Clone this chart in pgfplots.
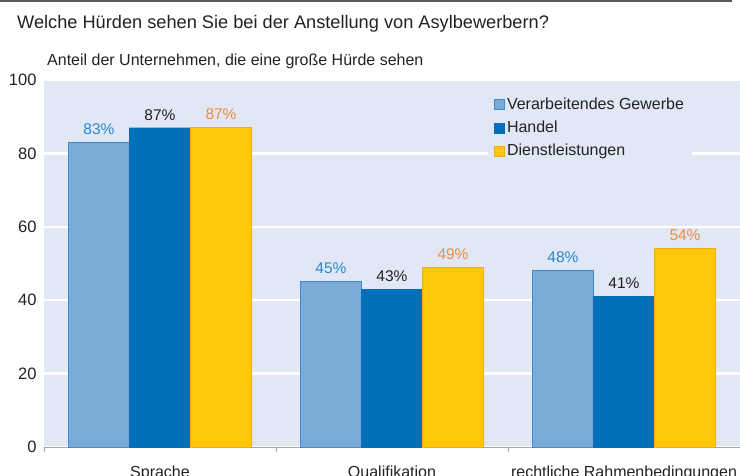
\documentclass[border=0pt]{standalone}
\usepackage{pgfplots}
\pgfplotsset{compat=1.18}
\usepackage{fontspec}
\setmainfont{Liberation Sans}
\definecolor{bgc}{HTML}{E1E7F4}
\definecolor{cA}{HTML}{7BAAD4}
\definecolor{cAb}{HTML}{3D8BD0}
\definecolor{cB}{HTML}{0070BA}
\definecolor{cC}{HTML}{FFC90A}
\definecolor{cCb}{HTML}{F5A623}
\definecolor{tA}{HTML}{2A87CF}
\definecolor{tB}{HTML}{222222}
\definecolor{tC}{HTML}{F28C3C}
\definecolor{axc}{HTML}{8EA6D6}
\begin{document}
\begin{tikzpicture}[x=1pt,y=1pt]
\useasboundingbox (0,0) rectangle (740,475);
\fill[black!65] (0,473) rectangle (732,475);
\node[anchor=west,font=\fontsize{18.2}{20}\selectfont,text=tB,inner sep=0pt] at (17,451) {Welche Hürden sehen Sie bei der Anstellung von Asylbewerbern?};
\node[anchor=west,font=\fontsize{16}{18}\selectfont,text=tB,inner sep=0pt] at (47,414) {Anteil der Unternehmen, die eine große Hürde sehen};
\begin{axis}[
  at={(44pt,28pt)}, anchor=south west,
  scale only axis, width=696pt, height=367pt,
  xmin=-0.5, xmax=2.5, ymin=0, ymax=100,
  axis background/.style={fill=bgc},
  axis x line*=bottom, axis y line*=left,
  x axis line style={draw=axc, line width=0.8pt, -},
  y axis line style={draw=none},
  ytick={0,20,40,60,80,100},
  ytick style={draw=none},
  yticklabel style={font=\fontsize{16.5}{18}\selectfont, text=tB, xshift=-4pt},
  ymajorgrids, grid style={white, line width=2.5pt},
  xtick={0,1,2},
  xticklabels={Sprache,Qualifikation,rechtliche Rahmenbedingungen},
  major x tick style={draw=none},
  minor xtick={-0.5,0.5,1.5,2.5},
  minor tick style={draw=axc, line width=0.8pt},
  minor tick length=5pt,
  xtick align=outside,
  xticklabel style={font=\fontsize{16}{18}\selectfont, text=tB, yshift=-11pt},
  /pgf/number format/assume math mode=true,
  bar width=0.263,
  ybar=0pt,
  legend style={at={(444pt,360pt)}, anchor=north west, fill=bgc, draw=none,
    font=\fontsize{16}{18}\selectfont, text=tB, inner xsep=6pt, inner ysep=9pt,
    row sep=6pt, legend cell align=left},
  legend image code/.code={\draw[#1] (0pt,-5pt) rectangle (10pt,5pt);},
  nodes near coords={\pgfmathprintnumber{\pgfplotspointmeta}\%},
  every node near coord/.append style={font=\fontsize{15.5}{17}\selectfont, yshift=4pt},
  clip=false,
]
\addplot[fill=cA, draw=cAb, line width=0.8pt, bar shift=-0.263,
  every node near coord/.append style={text=tA}] coordinates {(0,83) (1,45) (2,48)};
\addplot[fill=cB, draw=cB, bar shift=0,
  every node near coord/.append style={text=tB}] coordinates {(0,87) (1,43) (2,41)};
\addplot[fill=cC, draw=cCb, line width=0.8pt, bar shift=0.263,
  every node near coord/.append style={text=tC}] coordinates {(0,87) (1,49) (2,54)};
\legend{Verarbeitendes Gewerbe,Handel,Dienstleistungen}
\end{axis}
\end{tikzpicture}
\end{document}
